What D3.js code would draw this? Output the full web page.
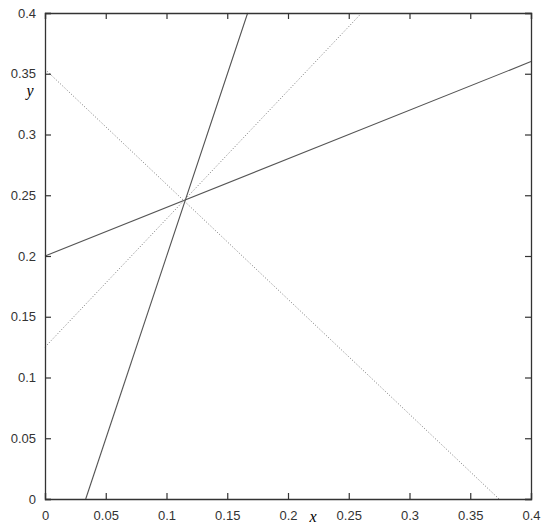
<!DOCTYPE html>
<html>
<head>
<meta charset="utf-8">
<script src="https://cdn.jsdelivr.net/npm/d3@7"></script>
<style>
  body { margin: 0; background: #fff; }
  .tick text { font-family: "Liberation Sans", Helvetica, Arial, sans-serif; font-size: 13px; fill: #333; }
</style>
</head>
<body>
<div class="chart"></div>
<script>
// tick values on both axes
var xTicks = [0, 0.05, 0.1, 0.15, 0.2, 0.25, 0.3, 0.35, 0.4];
var yTicks = [0, 0.05, 0.1, 0.15, 0.2, 0.25, 0.3, 0.35, 0.4];
var xTickLabels = ["0", "0.05", "0.1", "0.15", "0.2", "0.25", "0.3", "0.35", "0.4"];
var yTickLabels = ["0", "0.05", "0.1", "0.15", "0.2", "0.25", "0.3", "0.35", "0.4"];

// line endpoints
var solidShallow = [[0, 0.2], [0.4, 0.36]];
var solidSteep = [[0.0335, 0], [0.1668, 0.4]];
var dottedRising = [[0, 0.125], [0.2606, 0.4]];
var dottedFalling = [[0, 0.3537], [0.3737, 0]];

var lineSets = [
  { pts: solidShallow, dash: null, color: "#555", width: 1.1 },
  { pts: solidSteep, dash: null, color: "#555", width: 1.1 },
  { pts: dottedRising, dash: "1,2", color: "#777", width: 1 },
  { pts: dottedFalling, dash: "1,2", color: "#777", width: 1 }
];

var width = 550, height = 529;
var margin = { left: 45, right: 19, top: 13, bottom: 30 };

var svg = d3.select(".chart").append("svg")
  .attr("width", width)
  .attr("height", height);

var x = d3.scaleLinear().domain([0, 0.4]).range([margin.left, width - margin.right]);
var y = d3.scaleLinear().domain([0, 0.4]).range([height - margin.bottom, margin.top]);

var line = d3.line()
  .x(function(d) { return x(d[0]); })
  .y(function(d) { return y(d[1]); });

// lines first, frame on top
lineSets.forEach(function(s) {
  svg.append("path")
    .datum(s.pts)
    .attr("d", line)
    .attr("fill", "none")
    .attr("stroke", s.color)
    .attr("stroke-width", s.width)
    .attr("stroke-dasharray", s.dash);
});

// bottom axis, ticks point inward
var xAxis = svg.append("g")
  .attr("transform", "translate(0," + y(0) + ")")
  .call(d3.axisBottom(x).tickValues(xTicks).tickSize(-6).tickPadding(12)
    .tickFormat(function(d, i) { return xTickLabels[i]; }));

var yAxis = svg.append("g")
  .attr("transform", "translate(" + x(0) + ",0)")
  .call(d3.axisLeft(y).tickValues(yTicks).tickSize(-6).tickPadding(9)
    .tickFormat(function(d, i) { return yTickLabels[i]; }));

// mirrored ticks on top and right
var xTop = svg.append("g")
  .attr("transform", "translate(0," + y(0.4) + ")")
  .call(d3.axisTop(x).tickValues(xTicks).tickSize(-6).tickFormat(""));

var yRight = svg.append("g")
  .attr("transform", "translate(" + x(0.4) + ",0)")
  .call(d3.axisRight(y).tickValues(yTicks).tickSize(-6).tickFormat(""));

[xAxis, yAxis, xTop, yRight].forEach(function(g) {
  g.select(".domain").attr("stroke", "#333").attr("stroke-width", 1.3);
  g.selectAll(".tick line").attr("stroke", "#333").attr("stroke-width", 1.2);
});

// axis letters
svg.append("text")
  .attr("x", 313)
  .attr("y", 522)
  .attr("text-anchor", "middle")
  .style("font-family", "'Liberation Serif', 'DejaVu Serif', serif")
  .style("font-style", "italic")
  .style("font-size", "16px")
  .text("x");

svg.append("text")
  .attr("x", 30)
  .attr("y", 96)
  .attr("text-anchor", "middle")
  .style("font-family", "'Liberation Serif', 'DejaVu Serif', serif")
  .style("font-style", "italic")
  .style("font-size", "16px")
  .text("y");
</script>
</body>
</html>
